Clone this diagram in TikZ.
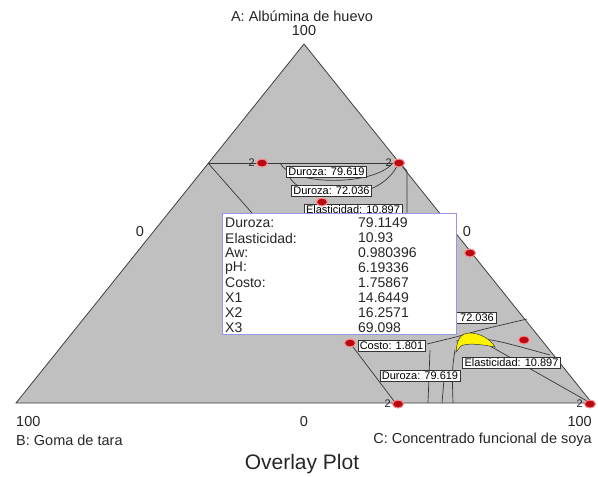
\documentclass[tikz,border=0pt]{standalone}
\usepackage{fontspec}
\setmainfont{Liberation Sans}
\usepackage{tikz}
\usetikzlibrary{positioning, calc, shapes}

\definecolor{plotgray}{RGB}{192,192,192}
\definecolor{dotred}{RGB}{185,10,20}
\definecolor{boxblue}{RGB}{150,150,230}
\definecolor{lineclr}{RGB}{55,55,55}

\tikzset{
  axislbl/.style={font=\fontsize{14.5}{16}\selectfont, text=black!85, inner sep=0pt},
  contour/.style={draw=lineclr, line width=0.7pt},
  dpt/.style={ellipse, fill=dotred, draw=red!45, line width=1pt, minimum width=11pt, minimum height=8pt, inner sep=0pt},
  twolbl/.style={font=\fontsize{11}{11}\selectfont, text=black!85, inner sep=0pt},
  flag/.style={draw=black!80, fill=white, font=\fontsize{11}{11}\selectfont, inner xsep=2pt, inner ysep=1pt, text height=8pt, text depth=1pt},
  infobox/.style={draw=boxblue, fill=white, line width=0.9pt, minimum width=234pt, minimum height=121pt, inner sep=0pt},
  infotxt/.style={font=\fontsize{14}{14}\selectfont, text=black!85, anchor=west, inner sep=0pt}
}

\begin{document}
\begin{tikzpicture}[x=1pt,y=-1pt]
\useasboundingbox (0,0) rectangle (598,477);
% mixture triangle
\coordinate (A) at (304,44);
\coordinate (B) at (16,403);
\coordinate (C) at (592,403);
\filldraw[fill=plotgray, draw=black!75, line width=0.8pt] (A) -- (B) -- (C) -- cycle;

% upper contours
\coordinate (hl) at (208,163);
\coordinate (hr) at (400,163);
\draw[contour] (hl) -- (hr);
\draw[contour] (hl) -- (252,213);
\draw[contour] (hr) -- (407,171) -- (407,213);
\draw[contour] (280,163) .. controls (292,186) and (372,186) .. (392,164);
\draw[contour] (290,178) .. controls (305,202) and (378,204) .. (397,166);

% lower contours
\draw[contour] (350,343) -- (394,401);
\draw[contour] (427,344) -- (456,337) .. controls (480,330) .. (527,319);
\draw[contour] (456,341) .. controls (485,337) .. (550,355);
\draw[contour] (490,346) -- (587,401);
\draw[contour] (430,350) -- (428,403);
\draw[contour] (444,380) -- (442,403);
\draw[contour] (455,350) .. controls (452,370) .. (453,403);
\fill[yellow, draw=lineclr, line width=0.5pt] (456,352) .. controls (457,340) and (460,333) .. (470,333)
  .. controls (481,333) and (491,340) .. (495,347) .. controls (480,344) and (466,343) .. (461,346) -- cycle;

% contour labels
\node[flag] (f1) at (326.5,172) {Duroza: 79.619};
\node[flag] (f2) at (331.5,190.5) {Duroza: 72.036};
\node[flag] (f3) at (353,210) {Elasticidad: 10.897};
\node[flag, anchor=east] (f4) at (496,318) {Duroza: 72.036};
\node[flag] (f5) at (391.5,345.5) {Costo: 1.801};
\node[flag] (f6) at (511.5,362.5) {Elasticidad: 10.897};
\node[flag] (f7) at (420,375.5) {Duroza: 79.619};

% design points
\foreach \n/\p in {d1/{(262,163)}, d2/{(399,163)}, d3/{(322,202)}, d4/{(470,253)},
  d5/{(524,340)}, d6/{(350,343)}, d7/{(398,404)}, d8/{(590,404)}}
  \node[dpt] (\n) at \p {};
\foreach \n in {d1, d2, d7, d8}
  \node[twolbl, left=1pt of \n] {2};

% flag point readout
\node[infobox, anchor=north west] (info) at (222,213) {};
\foreach \i/\k/\v in {0/Duroza:/79.1149, 1/Elasticidad:/10.93, 2/Aw:/0.980396, 3/pH:/6.19336,
  4/Costo:/1.75867, 5/X1/14.6449, 6/X2/16.2571, 7/X3/69.098} {
  \node[infotxt] (k\i) at (225,223+15*\i) {\k};
  \node[infotxt] (v\i) at (358,223+15*\i) {\v};
}

% axis labels
\node[axislbl] (tA) at (302,16) {A: Albúmina de huevo};
\node[axislbl] (nA) at (304,31) {100};
\node[axislbl] (zA) at (140,232) {0};
\node[axislbl] (zB) at (467,232) {0};
\node[axislbl, anchor=west] (nB) at (16,422) {100};
\node[axislbl, anchor=west] (tB) at (16,440) {B: Goma de tara};
\node[axislbl] (zC) at (304,422) {0};
\node[axislbl, anchor=east] (nC) at (592,422) {100};
\node[axislbl, anchor=east] (tC) at (592,440) {C: Concentrado funcional de soya};
\node[font=\fontsize{21}{22}\selectfont, text=black!85, inner sep=0pt] (title) at (302,464) {Overlay Plot};
\end{tikzpicture}
\end{document}
